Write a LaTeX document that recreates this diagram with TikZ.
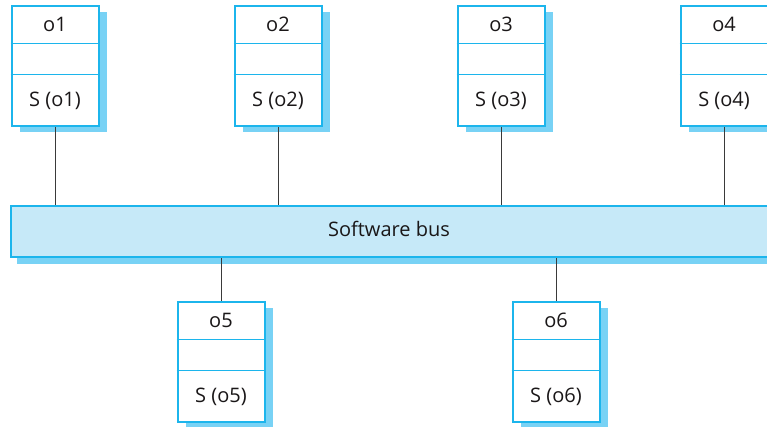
\documentclass[tikz,border=0pt]{standalone}
\usepackage{fontspec}
\setmainfont{Open Sans}
\definecolor{edge}{HTML}{1CB5EC}
\definecolor{shade}{HTML}{78D2F5}
\definecolor{busfill}{HTML}{C6E9F8}
\definecolor{ink}{HTML}{1A1718}
\definecolor{wire}{HTML}{3A3A3A}
\begin{document}
\begin{tikzpicture}[x=1pt,y=-1pt,
  objbox/.style={draw=edge,line width=2pt,fill=white,minimum width=87pt,minimum height=120pt,inner sep=0pt,anchor=north},
  shadowbox/.style={fill=shade,minimum width=87pt,minimum height=120pt,inner sep=0pt,anchor=north},
  divider/.style={draw=edge,line width=1pt},
  lbl/.style={text=ink,font=\fontsize{20}{24}\selectfont,inner sep=0pt},
  wireline/.style={draw=wire,line width=0.9pt}]
\useasboundingbox (0,0) rectangle (767,426);
\clip (0,0) rectangle (767,426);
% bus
\node[fill=shade,minimum width=758pt,minimum height=51pt,inner sep=0pt,anchor=north west] (busshadow) at (17,213) {};
\node[draw=edge,line width=2pt,fill=busfill,minimum width=758pt,minimum height=51pt,inner sep=0pt,anchor=north west] (bus) at (10,205) {};
\node[lbl] (buslbl) at (389,229) {Software bus};
% objects
\foreach \n/\x/\y/\side in {o1/55/5/top,o2/278/5/top,o3/501/5/top,o4/724/5/top,o5/221/301/bot,o6/556/301/bot}{
  \node[shadowbox] at (\x+8,\y+7) {};
  \node[objbox] (\n) at (\x,\y) {};
  \draw[divider] ([yshift=-38pt]\n.north west) -- ([yshift=-38pt]\n.north east);
  \draw[divider] ([yshift=-69pt]\n.north west) -- ([yshift=-69pt]\n.north east);
  \node[lbl] (\n t) at ([yshift=-19.5pt]\n.north) {\n};
  \node[lbl] (\n s) at ([yshift=-96pt]\n.north) {S (\n)};
}
\foreach \n in {o1,o2,o3,o4}{
  \draw[wireline] (\n.south) -- (\n.south |- bus.north);
}
\foreach \n in {o5,o6}{
  \draw[wireline] (\n.north) -- (\n.north |- bus.south);
}
\end{tikzpicture}
\end{document}
